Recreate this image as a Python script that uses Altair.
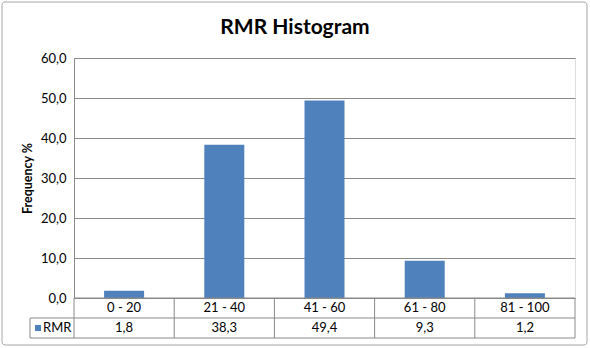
import altair as alt
import pandas as pd

bins = ["0 - 20", "21 - 40", "41 - 60", "61 - 80", "81 - 100"]
values = [1.8, 38.3, 49.4, 9.3, 1.2]
series_name = "RMR"
chart_title = "RMR Histogram"
y_ticks = [0, 10, 20, 30, 40, 50, 60]

df = pd.DataFrame({"bin": bins, "value": values})
df["label"] = [f"{v:.1f}".replace(".", ",") for v in values]
one = pd.DataFrame({"k": [0]})

FONT = "Lato"
BLUE = "#4F81BD"
GRAY = "#898989"
W, H = 501, 240
FS = 13
TL = -44  # table left edge

xenc = alt.X("bin:N", sort=bins, axis=None,
             scale=alt.Scale(paddingInner=0, paddingOuter=0))

frame = alt.Chart(one).mark_rect(fillOpacity=0, stroke="#A6A6A6", strokeWidth=1,
                                 cornerRadius=3).encode(
    x=alt.value(-72), x2=alt.value(513), y=alt.value(-56), y2=alt.value(287))

title = alt.Chart(pd.DataFrame({"t": [chart_title]})).mark_text(
    font=FONT, fontSize=21, fontWeight="bold", color="black",
    align="center", baseline="middle").encode(
    x=alt.value(221), y=alt.value(-30), text="t:N")

bars = alt.Chart(df).mark_bar(color=BLUE, width=40).encode(
    x=xenc,
    y=alt.Y("value:Q", scale=alt.Scale(domain=[0, 60]),
            axis=alt.Axis(values=y_ticks, title="Frequency %",
                          labelExpr="replace(format(datum.value, '.1f'), '.', ',')",
                          grid=True, gridColor=GRAY, domainColor=GRAY,
                          ticks=False, labelPadding=8, labelFont=FONT,
                          labelFontSize=FS, labelColor="#000000",
                          titleFont=FONT, titleFontSize=12.5, titleFontWeight="bold",
                          titleColor="#000000", titlePadding=6)),
)

row1 = alt.Chart(df).mark_text(font=FONT, fontSize=FS, color="black").encode(
    x=xenc, y=alt.value(250), text="bin:N")
row2 = alt.Chart(df).mark_text(font=FONT, fontSize=FS, color="black").encode(
    x=xenc, y=alt.value(270), text="label:N")

vlines = alt.Chart(df).mark_rule(color=GRAY).encode(
    x=alt.X("bin:N", sort=bins, axis=None, bandPosition=0,
            scale=alt.Scale(paddingInner=0, paddingOuter=0)),
    y=alt.value(240), y2=alt.value(280))
vlast = alt.Chart(one).mark_rule(color=GRAY).encode(
    x=alt.value(W), y=alt.value(240), y2=alt.value(280))
vleft = alt.Chart(one).mark_rule(color=GRAY).encode(
    x=alt.value(TL), y=alt.value(260), y2=alt.value(280))
hx = alt.Chart(one).mark_rule(color=GRAY).encode(
    x=alt.value(0), x2=alt.value(W), y=alt.value(240))
h2 = alt.Chart(one).mark_rule(color=GRAY).encode(
    x=alt.value(TL), x2=alt.value(W), y=alt.value(260))
h3 = alt.Chart(one).mark_rule(color=GRAY).encode(
    x=alt.value(TL), x2=alt.value(W), y=alt.value(280))

swatch = alt.Chart(one).mark_square(color=BLUE, size=36, opacity=1).encode(
    x=alt.value(-36), y=alt.value(270))
legtext = alt.Chart(pd.DataFrame({"t": [series_name]})).mark_text(
    font=FONT, fontSize=FS, color="black", align="left").encode(
    x=alt.value(-31), y=alt.value(270), text="t:N")

chart = alt.layer(frame, title, bars, vlines, vlast, vleft, hx, h2, h3,
                  row1, row2, swatch, legtext).properties(
    width=W, height=H,
    autosize=alt.AutoSizeParams(type="none"),
    padding={"left": 74, "top": 58, "right": 15, "bottom": 50},
).configure_view(stroke=None).configure(background="white")

chart.save("out.html", embed_options={"renderer": "svg", "actions": False})
